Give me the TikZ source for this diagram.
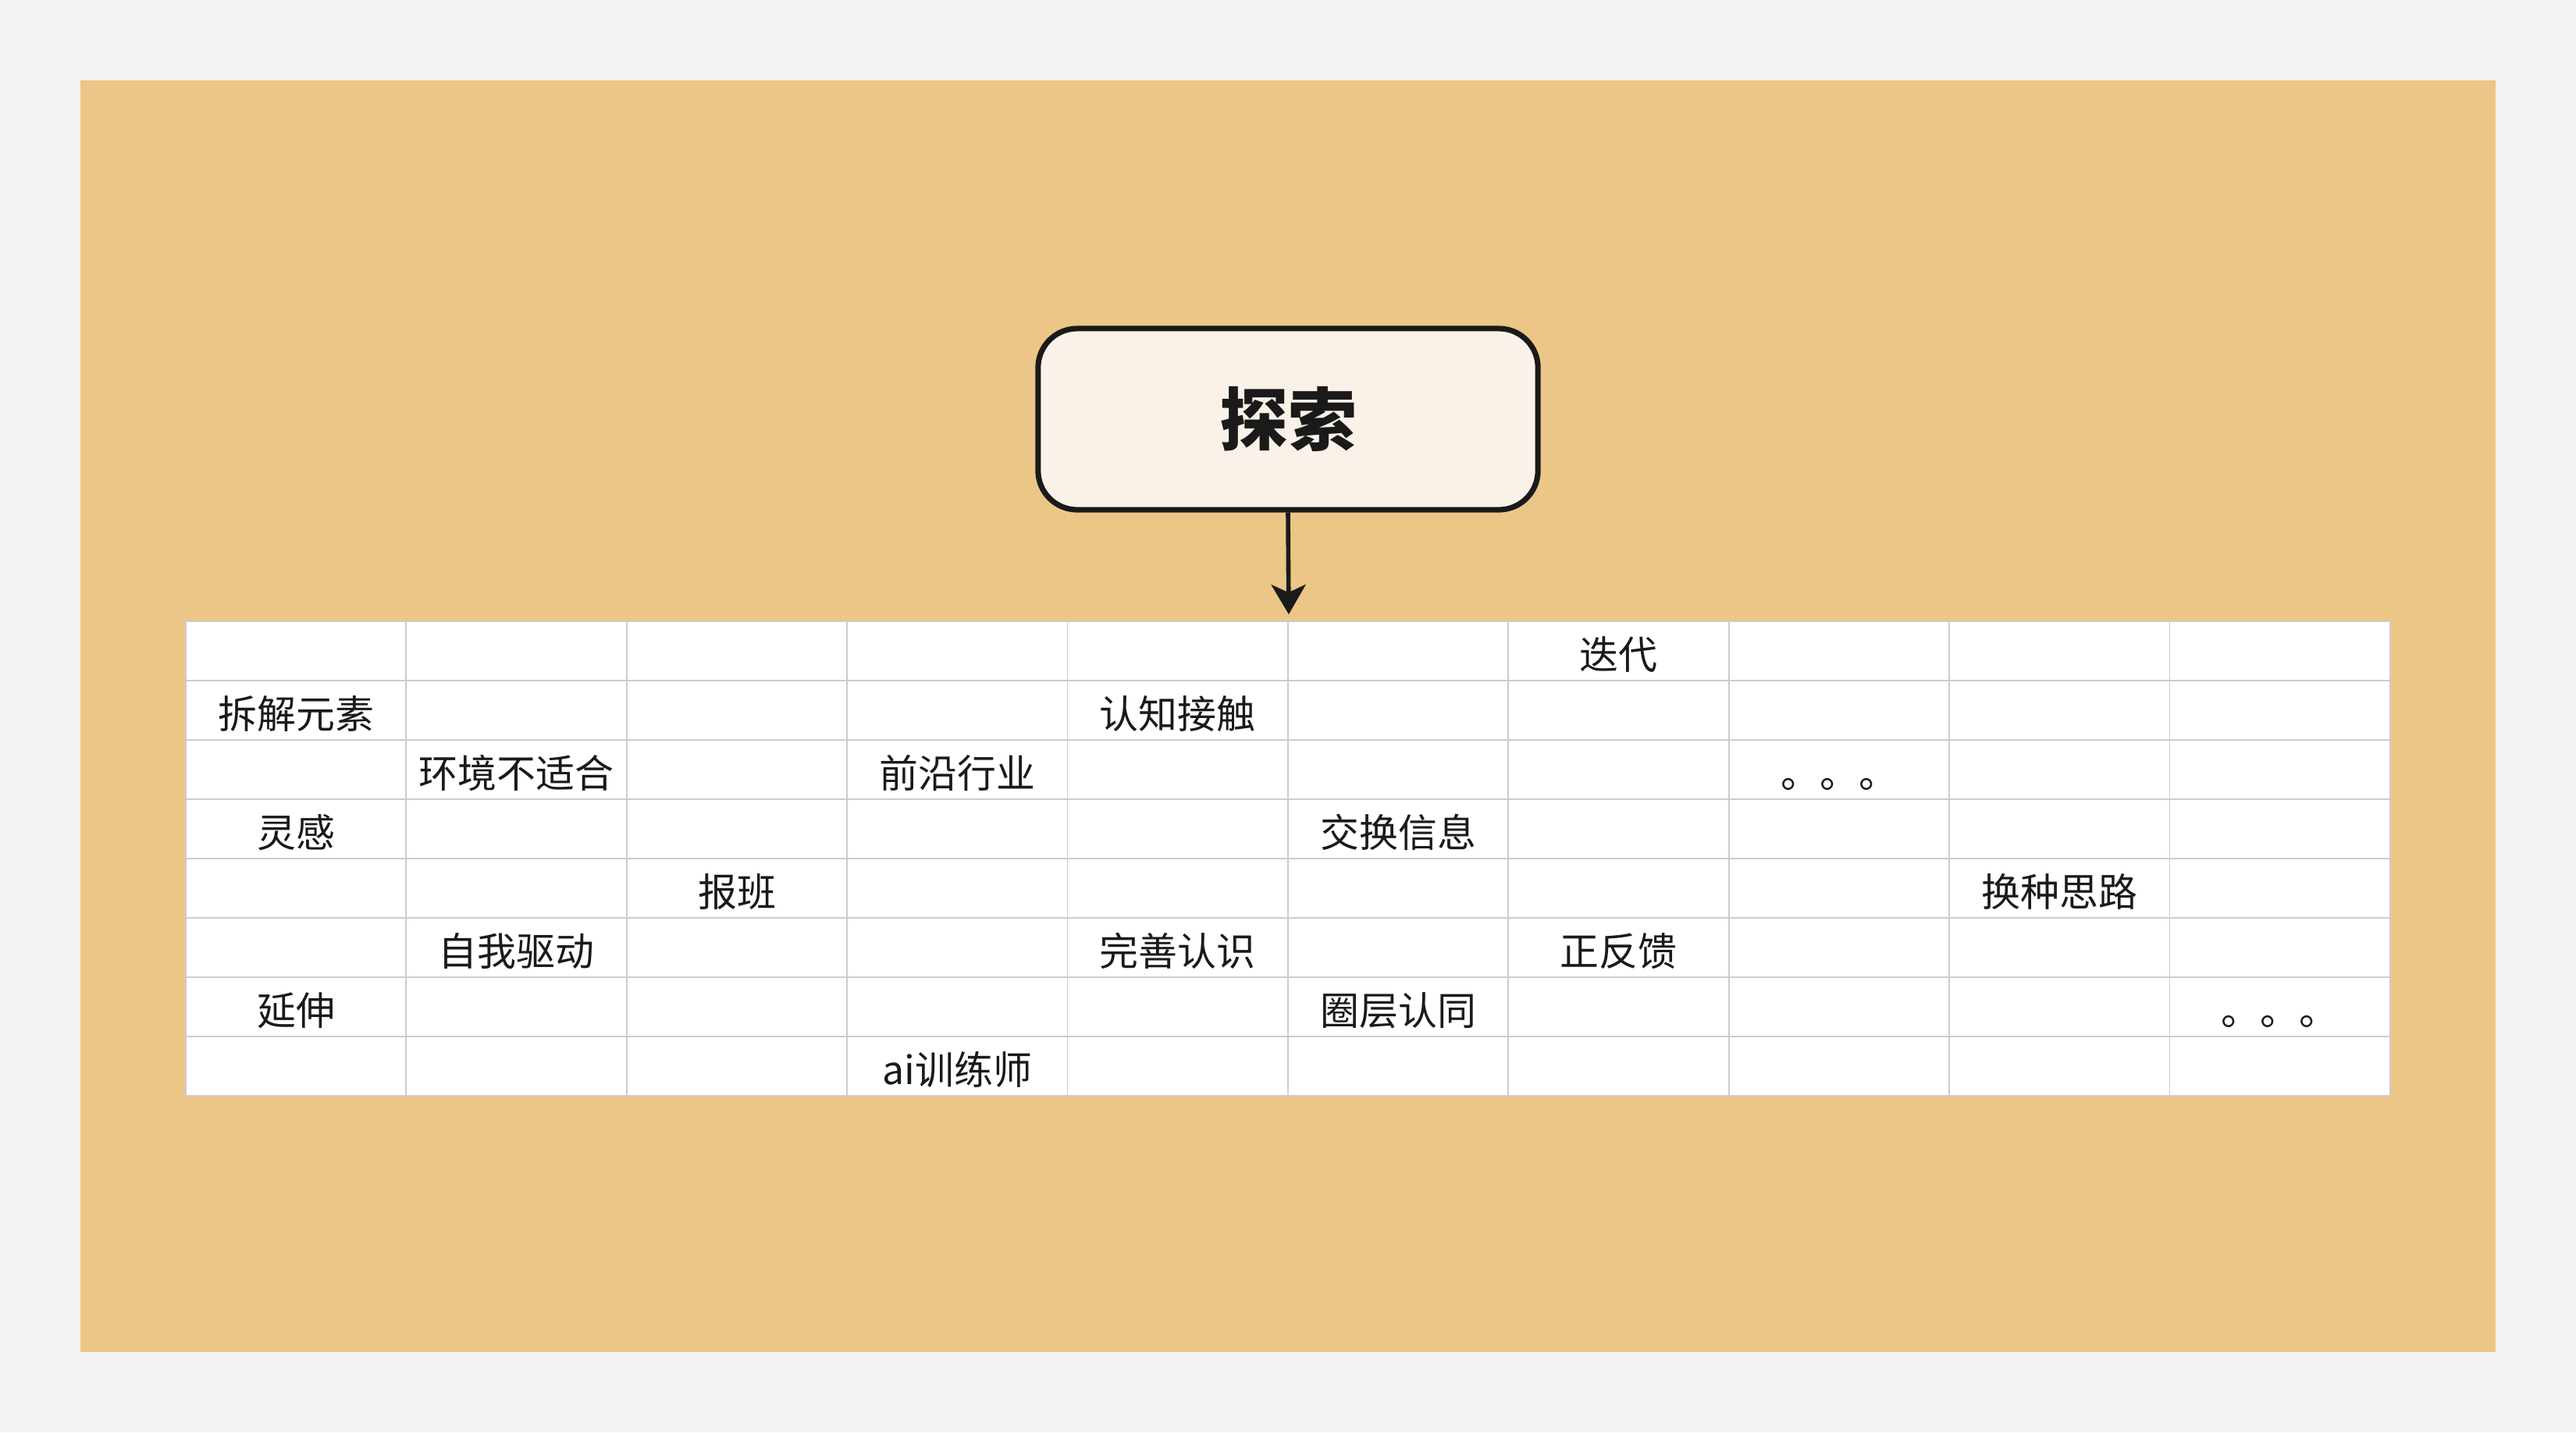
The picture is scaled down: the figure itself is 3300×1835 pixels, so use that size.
\documentclass[tikz,border=0pt]{standalone}
\usepackage{fontspec}
\setmainfont{Noto Sans CJK SC}
\usetikzlibrary{arrows.meta}
\definecolor{pagegray}{HTML}{F2F2F2}
\definecolor{panelorange}{HTML}{ECC686}
\definecolor{boxcream}{HTML}{FAF2E8}
\definecolor{gridgray}{HTML}{CCCCCC}
\definecolor{inkblack}{HTML}{1A1A1A}

\begin{document}
\begin{tikzpicture}[x=0.01cm, y=-0.01cm,
		cell/.style={draw=gridgray, line width=0.5pt, fill=white, inner sep=0pt,
			minimum width=2.824cm, minimum height=0.76cm},
		word/.style={text=inkblack, inner sep=0pt, anchor=base, yshift=-0.23cm,
			font=\fontsize{14.2pt}{17pt}\selectfont},
		title/.style={draw=inkblack, line width=2pt, fill=boxcream, rounded corners=0.5cm,
			minimum width=6.4cm, minimum height=2.32cm, text=inkblack,
			font=\fontsize{25pt}{30pt}\selectfont\bfseries},
	]
	\fill[pagegray] (0,0) rectangle (3300,1835);
	\fill[panelorange] (103,103) rectangle (3197,1732);
	\node[title] (explore) at (1650,537) {探索};
	\foreach \r in {0,...,7}
		\foreach \c in {0,...,9}
			\node[cell] (cell-\r-\c) at ({379.2+282.4*\c}, {834+76*\r}) {};
	\foreach \r/\c/\txt in {0/6/迭代, 1/0/拆解元素, 1/4/认知接触, 2/1/环境不适合, 2/3/前沿行业,
		2/7/。。。, 3/0/灵感, 3/5/交换信息, 4/2/报班, 4/8/换种思路, 5/1/自我驱动,
		5/4/完善认识, 5/6/正反馈, 6/0/延伸, 6/5/圈层认同, 6/9/。。。, 7/3/ai训练师}
		\node[word] (word-\r-\c) at (cell-\r-\c) {\txt};
	\draw[inkblack, line width=1.6pt, shorten >=0.08cm,
		-{Stealth[length=0.38cm, width=0.44cm, inset=0.1cm]}] (explore.south) -- (cell-0-4.north east);
\end{tikzpicture}
\end{document}
